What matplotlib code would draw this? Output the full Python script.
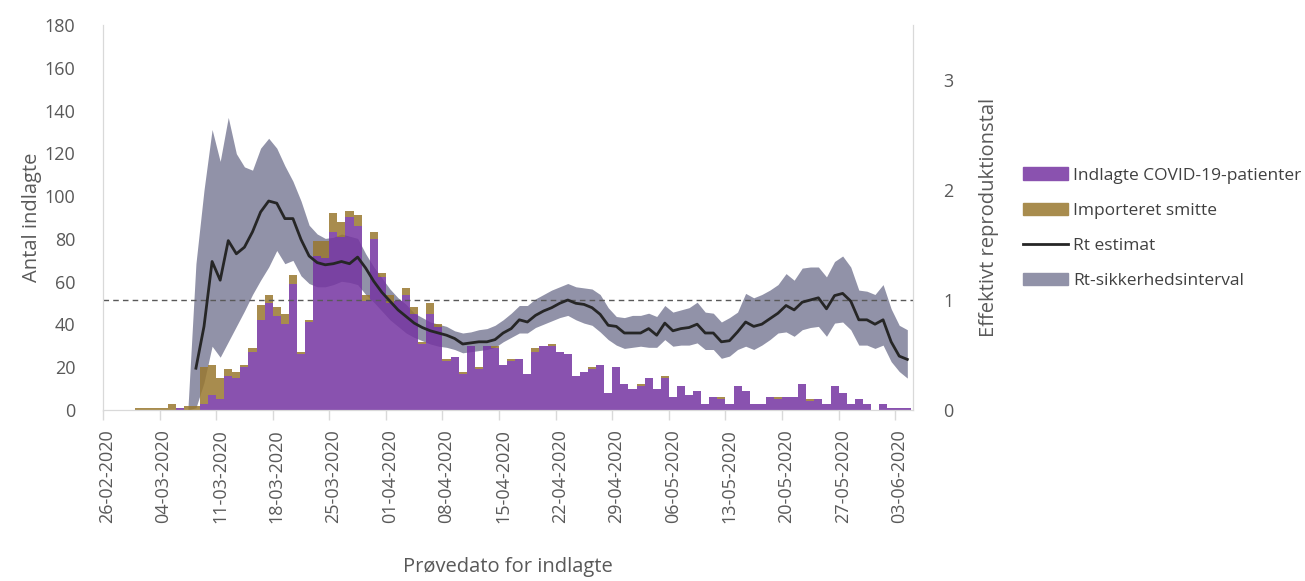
import numpy as np
import pandas as pd
import matplotlib
matplotlib.use('Agg')
import matplotlib.pyplot as plt
from matplotlib.patches import Patch
from matplotlib.lines import Line2D

plt.rcParams['font.family'] = ['Open Sans', 'DejaVu Sans']

# daglige indlæggelser fra 26-02-2020
dates = pd.date_range('2020-02-26', periods=100)
indlagte = [0, 0, 0, 0, 0, 0, 0, 0, 0, 1,
            0, 0, 3, 7, 5, 16, 15, 20, 27, 42,
            50, 44, 40, 59, 26, 41, 72, 71, 83, 81,
            90, 86, 51, 80, 62, 50, 51, 54, 45, 31,
            45, 39, 23, 25, 17, 30, 19, 30, 29, 21,
            23, 24, 17, 27, 30, 30, 27, 26, 16, 18,
            19, 21, 8, 20, 12, 10, 11, 15, 10, 15,
            6, 11, 7, 9, 3, 6, 5, 3, 11, 9,
            3, 3, 6, 5, 6, 6, 12, 4, 5, 3,
            11, 8, 3, 5, 3, 0, 3, 1, 1, 1]
importeret = [0, 0, 0, 0, 1, 1, 1, 1, 3, 0,
              2, 2, 17, 14, 10, 3, 3, 1, 2, 7,
              4, 4, 5, 4, 1, 1, 7, 8, 9, 7,
              3, 5, 3, 3, 2, 4, 0, 3, 3, 1,
              5, 1, 1, 0, 1, 0, 1, 0, 1, 0,
              1, 0, 0, 2, 0, 1, 0, 0, 0, 0,
              1, 0, 0, 0, 0, 0, 1, 0, 0, 1,
              0, 0, 0, 0, 0, 0, 1, 0, 0, 0,
              0, 0, 0, 1, 0, 0, 0, 1, 0, 0,
              0, 0, 0, 0, 0, 0, 0, 0, 0, 0]

# Rt estimat fra dag 11 (08-03-2020)
rt_start = 11
rt = [0.38, 0.76, 1.35, 1.18, 1.54, 1.42, 1.48, 1.62, 1.80,
      1.90, 1.88, 1.74, 1.74, 1.55, 1.40, 1.34, 1.32, 1.33, 1.35,
      1.33, 1.39, 1.29, 1.17, 1.07, 0.99, 0.91, 0.85, 0.79, 0.75,
      0.72, 0.70, 0.68, 0.65, 0.60, 0.61, 0.62, 0.62, 0.64, 0.70,
      0.74, 0.82, 0.80, 0.86, 0.90, 0.93, 0.97, 1.00, 0.97, 0.96,
      0.93, 0.87, 0.77, 0.76, 0.70, 0.70, 0.70, 0.74, 0.68, 0.79,
      0.72, 0.74, 0.75, 0.78, 0.70, 0.70, 0.62, 0.63, 0.71, 0.80,
      0.76, 0.78, 0.83, 0.88, 0.95, 0.91, 0.98, 1.00, 1.02, 0.92,
      1.04, 1.06, 0.99, 0.82, 0.82, 0.78, 0.82, 0.62, 0.49, 0.46]

# sikkerhedsinterval fra dag 10
ci_start = 10
ci_upper = [0, 1.33, 2.0, 2.55, 2.26, 2.66, 2.33, 2.21, 2.18, 2.38,
            2.47, 2.38, 2.22, 2.08, 1.9, 1.68, 1.6, 1.56, 1.57, 1.6,
            1.58, 1.56, 1.42, 1.3, 1.2, 1.1, 1.02, 0.96, 0.88, 0.84,
            0.8, 0.78, 0.76, 0.72, 0.7, 0.71, 0.73, 0.74, 0.77, 0.82,
            0.88, 0.95, 0.95, 1.01, 1.05, 1.09, 1.12, 1.15, 1.12, 1.11,
            1.1, 1.05, 0.93, 0.85, 0.84, 0.86, 0.86, 0.88, 0.85, 0.95,
            0.89, 0.91, 0.93, 0.98, 0.89, 0.88, 0.8, 0.84, 0.89, 1.06,
            1.02, 1.05, 1.09, 1.14, 1.24, 1.18, 1.29, 1.3, 1.3, 1.21,
            1.35, 1.4, 1.3, 1.09, 1.08, 1.05, 1.14, 0.92, 0.77, 0.73]
ci_lower = [0, 0.02, 0.25, 0.58, 0.48, 0.62, 0.76, 0.9, 1.05, 1.18,
            1.3, 1.45, 1.33, 1.36, 1.22, 1.15, 1.12, 1.12, 1.14, 1.17,
            1.16, 1.14, 1.05, 0.98, 0.9, 0.82, 0.76, 0.7, 0.66, 0.63,
            0.6, 0.58, 0.57, 0.55, 0.52, 0.53, 0.54, 0.55, 0.57, 0.62,
            0.66, 0.7, 0.7, 0.75, 0.78, 0.81, 0.84, 0.86, 0.82, 0.79,
            0.77, 0.71, 0.64, 0.59, 0.56, 0.57, 0.58, 0.57, 0.57, 0.64,
            0.58, 0.59, 0.59, 0.61, 0.55, 0.55, 0.47, 0.49, 0.55, 0.58,
            0.55, 0.59, 0.64, 0.7, 0.71, 0.67, 0.73, 0.75, 0.76, 0.67,
            0.79, 0.8, 0.73, 0.59, 0.59, 0.56, 0.59, 0.44, 0.35, 0.29]

purple = '#7534A1'
gold = '#99782F'
band = '#9192A8'
grey_txt = '#595959'

x = np.arange(len(dates))
x_rt = np.arange(rt_start, rt_start + len(rt))
x_ci = np.arange(ci_start, ci_start + len(ci_upper))

fig = plt.figure(figsize=(13.05, 5.81), dpi=100)
ax = fig.add_axes([0.0789, 0.2943, 0.6207, 0.6627])
ax2 = ax.twinx()
ax2.set_ylim(0, 3.5)

# band under bars, but in Rt units
ax.fill_between(x_ci, ci_lower, ci_upper, color=band, lw=0, zorder=1,
                transform=ax2.transData)
ax.bar(x, indlagte, width=1.0, color=purple, alpha=0.85, lw=0, zorder=2)
ax.bar(x, importeret, width=1.0, bottom=indlagte, color=gold, alpha=0.85, lw=0, zorder=2)

ax2.axhline(1, color='#595959', lw=1, ls=(0, (4, 3)))
ax2.plot(x_rt, rt, color='#262626', lw=2)

ax.set_xlim(-0.5, 99.7)
ax.set_ylim(0, 180)
ax.set_yticks(range(0, 181, 20))
ax2.set_yticks([0, 1, 2, 3])

week = x[::7]
ax.set_xticks(week)
ax.set_xticklabels(dates[::7].strftime('%d-%m-%Y'), rotation=90)
ax.set_xticks(week - 0.5, minor=True)
ax.tick_params(axis='x', which='major', length=0, pad=14, labelsize=13, labelcolor=grey_txt)
ax.tick_params(axis='x', which='minor', length=7, color='#D9D9D9', width=1)
ax.tick_params(axis='y', length=0, pad=20, labelsize=13, labelcolor=grey_txt)
ax2.tick_params(axis='y', length=0, pad=22, labelsize=13, labelcolor=grey_txt)

for a in (ax, ax2):
    a.spines['top'].set_visible(False)
    for s in ('left', 'right', 'bottom'):
        a.spines[s].set_color('#D9D9D9')

ax.set_ylabel('Antal indlagte', fontsize=14.5, color=grey_txt, labelpad=2)
ax2.set_ylabel('Effektivt reproduktionstal', fontsize=14.5, color=grey_txt, labelpad=18)
ax.set_xlabel('Prøvedato for indlagte', fontsize=14.5, color=grey_txt, labelpad=24)

handles = [Patch(color='#8A52AF'), Patch(color='#A88C4E'),
           Line2D([], [], color='#262626', lw=2), Patch(color=band)]
labels = ['Indlagte COVID-19-patienter', 'Importeret smitte', 'Rt estimat', 'Rt-sikkerhedsinterval']
fig.legend(handles, labels, loc='center left', bbox_to_anchor=(0.772, 0.607),
           frameon=False, fontsize=12.5, labelcolor='#404040', handlelength=2.6,
           handletextpad=0.3, labelspacing=1.1)

fig.savefig('out.png', dpi=100)
